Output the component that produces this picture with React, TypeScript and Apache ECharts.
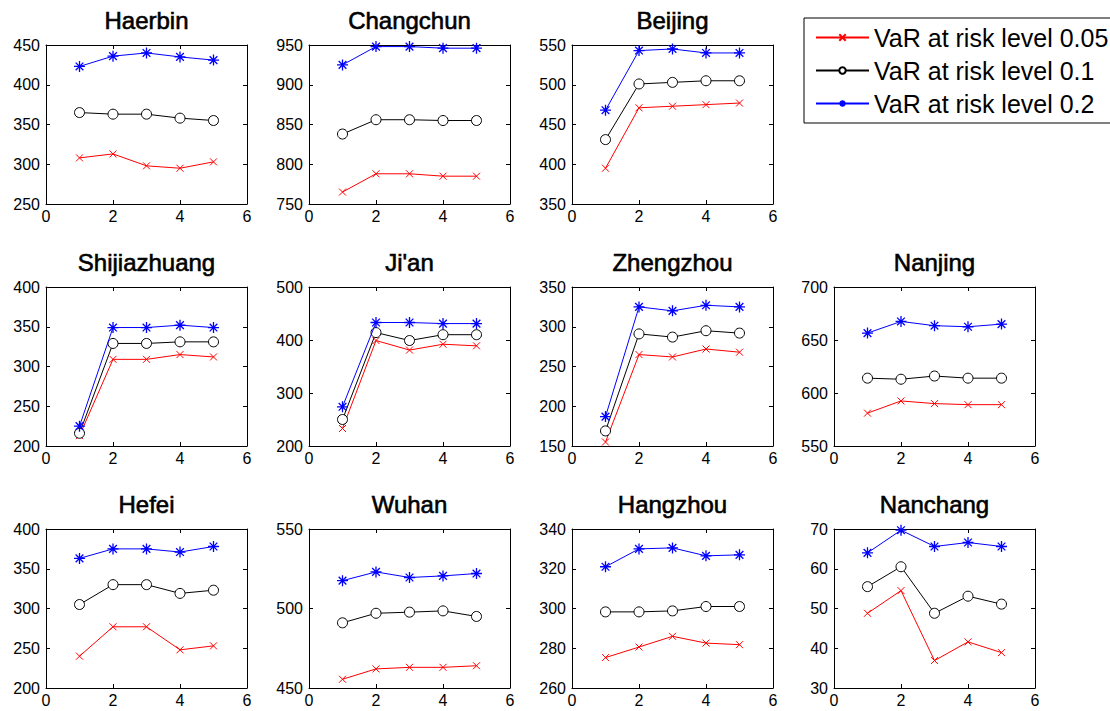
import React, { useEffect, useRef } from "react";
import * as echarts from "echarts";

// ---- data ----
const cities = [
  "Haerbin", "Changchun", "Beijing",
  "Shijiazhuang", "Ji'an", "Zhengzhou", "Nanjing",
  "Hefei", "Wuhan", "Hangzhou", "Nanchang",
];
const xValues = [1, 2, 3, 4, 5];
const seriesNames = ["VaR at risk level 0.05", "VaR at risk level 0.1", "VaR at risk level 0.2"];

// VaR at risk level 0.05 (per city, x = 1..5)
const level005 = [
  [308, 313, 298, 295, 303],
  [765, 788, 788, 785, 785],
  [395, 471, 473, 475, 477],
  [213, 309, 309, 315, 312],
  [233, 399, 381, 392, 389],
  [155, 265, 262, 272, 268],
  [581, 592.5, 590, 589, 589],
  [240, 277, 277, 248, 253],
  [455.5, 462, 463, 463, 464],
  [275.3, 280.6, 286, 282.6, 281.8],
  [48.8, 54.5, 36.9, 41.6, 38.9],
];
// VaR at risk level 0.1
const level010 = [
  [365, 363, 363, 358, 355],
  [838, 856, 856, 855, 855],
  [431, 501, 503, 505, 505],
  [216, 329, 329, 331, 331],
  [250, 414, 399, 410, 410],
  [169, 291, 287, 295, 292],
  [614, 613, 616, 614, 614],
  [305, 330, 330, 319, 323],
  [491, 497, 497.7, 498.5, 495],
  [298.3, 298.3, 298.8, 301, 301],
  [55.5, 60.5, 48.8, 53.1, 51.1],
];
// VaR at risk level 0.2
const level020 = [
  [423, 436, 440, 435, 431],
  [925, 948, 948, 946, 946],
  [468, 543, 545, 540, 540],
  [225, 349, 349, 352, 349],
  [274, 433, 433, 431, 431],
  [187, 325, 320, 327, 325],
  [656.5, 667.5, 663.5, 662.5, 665],
  [363, 375, 375, 371, 378],
  [517.5, 523, 519.5, 520.5, 522],
  [321, 330, 330.5, 326.5, 327],
  [64, 69.7, 65.6, 66.6, 65.6],
];
const yMin = [250, 750, 350, 200, 200, 150, 550, 200, 450, 260, 30];
const yMax = [450, 950, 550, 400, 500, 350, 700, 400, 550, 340, 70];
const yStep = [50, 50, 50, 50, 100, 50, 50, 50, 50, 20, 10];
const xMin = 0;
const xMax = 6;
const xStep = 2;

// ---- layout ----
const cellRowCol = [
  [0, 0], [0, 1], [0, 2],
  [1, 0], [1, 1], [1, 2], [1, 3],
  [2, 0], [2, 1], [2, 2], [2, 3],
];
const colLeft = [46, 309, 572, 834];
const rowTop = [45, 287, 529];
const boxW = 201;
const boxH = 159;
const FONT = "'Liberation Sans', Arial, sans-serif";

const colors = ["#ff0000", "#000000", "#0000ff"];
const fills = ["#ff0000", "#ffffff", "#0000ff"];
const symbols = [
  "path://M0,0L10,10M10,0L0,10",
  "circle",
  "path://M5,0L5,10M0,5L10,5M1.5,1.5L8.5,8.5M8.5,1.5L1.5,8.5",
];
const symbolSizes = [7, 10, 11];
const symbolStroke = [1, 1, 1.3];

export default function App() {
  const ref = useRef<HTMLDivElement>(null);

  useEffect(() => {
    if (!ref.current) return;
    const chart = echarts.init(ref.current, undefined, { renderer: "svg" });

    const grids: any[] = [];
    const xAxes: any[] = [];
    const yAxes: any[] = [];
    const titles: any[] = [];
    const series: any[] = [];
    const levels = [level005, level010, level020];

    cities.forEach((city, i) => {
      const [r, c] = cellRowCol[i];
      const left = colLeft[c];
      const top = rowTop[r];
      grids.push({ left, top, width: boxW, height: boxH, containLabel: false });
      titles.push({
        text: city,
        left: left + boxW / 2,
        top: top - 37,
        textAlign: "center",
        padding: 0,
        textStyle: {
          fontFamily: FONT, fontSize: 24, fontWeight: "normal", color: "#000",
          textBorderColor: "#000", textBorderWidth: 0.6,
        },
      });
      const axisLine = { show: true, onZero: false, lineStyle: { color: "#000", width: 1 } };
      const tick = { show: true, inside: true, length: 4, lineStyle: { color: "#000", width: 1 } };
      xAxes.push({
        type: "value", gridIndex: i, position: "bottom", min: xMin, max: xMax, interval: xStep,
        axisLine, axisTick: tick, splitLine: { show: false },
        axisLabel: { show: true, color: "#000", fontFamily: FONT, fontSize: 16, margin: 4 },
      });
      xAxes.push({
        type: "value", gridIndex: i, position: "top", min: xMin, max: xMax, interval: xStep,
        axisLine, axisTick: tick, splitLine: { show: false }, axisLabel: { show: false },
      });
      yAxes.push({
        type: "value", gridIndex: i, position: "left", min: yMin[i], max: yMax[i], interval: yStep[i],
        axisLine, axisTick: tick, splitLine: { show: false },
        axisLabel: { show: true, color: "#000", fontFamily: FONT, fontSize: 16, margin: 6 },
      });
      yAxes.push({
        type: "value", gridIndex: i, position: "right", min: yMin[i], max: yMax[i], interval: yStep[i],
        axisLine, axisTick: tick, splitLine: { show: false }, axisLabel: { show: false },
      });
      levels.forEach((lv, k) => {
        series.push({
          type: "line",
          name: seriesNames[k],
          xAxisIndex: 2 * i,
          yAxisIndex: 2 * i,
          data: xValues.map((x, j) => [x, lv[i][j]]),
          symbol: symbols[k],
          symbolSize: symbolSizes[k],
          symbolKeepAspect: true,
          showAllSymbol: true,
          lineStyle: { color: colors[k], width: 1 },
          itemStyle: { color: fills[k], borderColor: colors[k], borderWidth: symbolStroke[k] },
          emphasis: { disabled: true },
          z: 2 + k,
        });
      });
    });

    chart.setOption({
      animation: false,
      backgroundColor: "#fff",
      title: titles,
      grid: grids,
      xAxis: xAxes,
      yAxis: yAxes,
      series,
      legend: {
        show: true,
        data: seriesNames,
        orient: "vertical",
        left: 804,
        top: 18,
        padding: [7, 10, 7, 11],
        itemGap: 8,
        itemWidth: 53,
        itemHeight: 8,
        borderColor: "#000",
        borderWidth: 1,
        backgroundColor: "#fff",
        selectedMode: false,
        textStyle: { fontFamily: FONT, fontSize: 25, lineHeight: 25, color: "#000" },
      },
    });

    return () => chart.dispose();
  }, []);

  return (
    <div
      ref={ref}
      style={{ position: "fixed", left: 0, top: 0, width: 1110, height: 711 }}
    />
  );
}
